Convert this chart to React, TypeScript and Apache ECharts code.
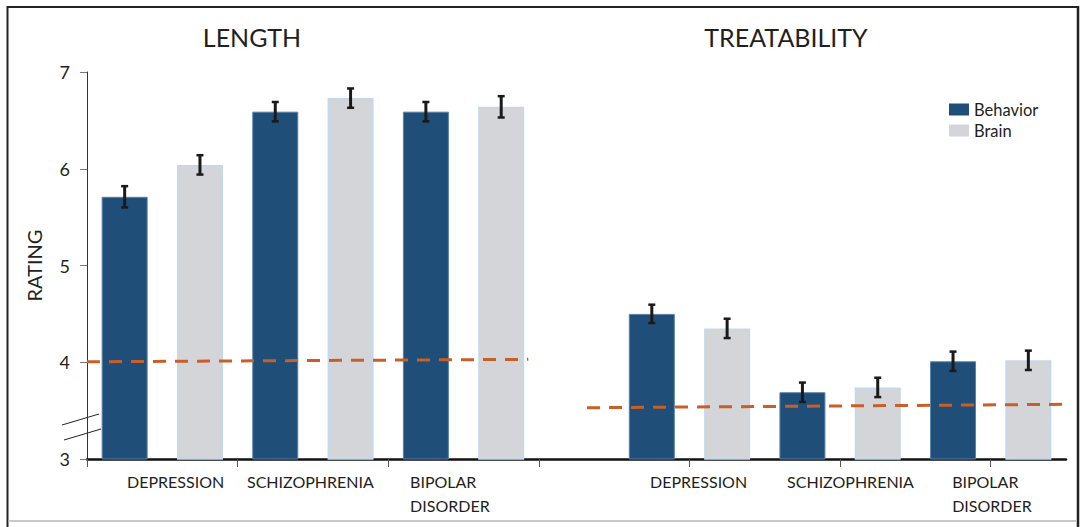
import React, { useEffect, useRef } from "react";
import * as echarts from "echarts";

// Panel titles and disorder categories
const panels = ["LENGTH", "TREATABILITY"];
const categories = ["DEPRESSION", "SCHIZOPHRENIA", "BIPOLAR\nDISORDER"];
const yTicks = [3, 4, 5, 6, 7];

// Mean ratings (LENGTH panel, then TREATABILITY panel)
const lengthBehavior = [5.71, 6.59, 6.59];
const lengthBrain = [6.04, 6.73, 6.64];
const treatBehavior = [4.5, 3.69, 4.01];
const treatBrain = [4.35, 3.74, 4.02];

// Standard errors
const lengthBehaviorErr = [0.11, 0.1, 0.1];
const lengthBrainErr = [0.1, 0.1, 0.11];
const treatBehaviorErr = [0.095, 0.1, 0.1];
const treatBrainErr = [0.1, 0.1, 0.1];

// Reference (scale midpoint) dashed lines: [start, end] ratings
const lengthRef = [4.005, 4.03];
const treatRef = [3.53, 3.565];

const FONT = "Lato, 'Open Sans', sans-serif";
const TEXT = "#231f20";
const BLUE = "#1f4e79";
const GREY = "#d4d5d8";

// x layout on a value axis: LENGTH slots sit between ticks 0..3,
// TREATABILITY groups are centred on ticks 4, 5, 6.
const lengthCenter = (i: number) => i + 0.5;
const treatCenter = (i: number) => 4 + i;
const OFFSET = 0.25;

const barPoints = (vals: number[], center: (i: number) => number, dx: number) =>
  vals.map((v, i) => [center(i) + dx, v]);
const errPoints = (
  vals: number[],
  errs: number[],
  center: (i: number) => number,
  dx: number
) => vals.map((v, i) => [center(i) + dx, v - errs[i], v + errs[i]]);

// Category label anchors (left edges of the labels)
const labelAnchors = [0.266, 1.062, 2.145, 3.738, 4.648, 5.744];
const labelTexts = [...categories, ...categories];

export default function App() {
  const ref = useRef<HTMLDivElement>(null);

  useEffect(() => {
    if (!ref.current) return;
    const chart = echarts.init(ref.current, null, { renderer: "svg" });

    const behaviorData = [
      ...barPoints(lengthBehavior, lengthCenter, -OFFSET),
      ...barPoints(treatBehavior, treatCenter, -OFFSET),
    ];
    const brainData = [
      ...barPoints(lengthBrain, lengthCenter, OFFSET),
      ...barPoints(treatBrain, treatCenter, OFFSET),
    ];
    const errData = [
      ...errPoints(lengthBehavior, lengthBehaviorErr, lengthCenter, -OFFSET),
      ...errPoints(lengthBrain, lengthBrainErr, lengthCenter, OFFSET),
      ...errPoints(treatBehavior, treatBehaviorErr, treatCenter, -OFFSET),
      ...errPoints(treatBrain, treatBrainErr, treatCenter, OFFSET),
    ];

    chart.setOption({
      animation: false,
      backgroundColor: "#ffffff",
      textStyle: { fontFamily: FONT },
      grid: {
        left: 87,
        right: 15,
        top: 72,
        bottom: 68,
        containLabel: false,
      },
      legend: {
        orient: "vertical",
        left: 944,
        top: 96,
        itemWidth: 20,
        itemHeight: 12,
        itemGap: 4,
        icon: "rect",
        textStyle: { fontFamily: FONT, fontSize: 16.5, color: TEXT },
        data: [
          { name: "Behavior", itemStyle: { borderWidth: 0 } },
          { name: "Brain", itemStyle: { borderWidth: 0 } },
        ],
      },
      xAxis: {
        type: "value",
        min: 0,
        max: 6.5,
        splitLine: { show: false },
        axisLine: { show: true, lineStyle: { color: "#111", width: 2.5 } },
        axisTick: {
          show: true,
          customValues: [0, 1, 2, 3, 4, 5, 6],
          length: 8,
          lineStyle: { color: "#555", width: 1 },
        },
        axisLabel: {
          customValues: labelAnchors,
          formatter: (v: number) => {
            let best = 0;
            labelAnchors.forEach((a, i) => {
              if (Math.abs(a - v) < Math.abs(labelAnchors[best] - v)) best = i;
            });
            return labelTexts[best];
          },
          align: "left",
          margin: 10,
          fontFamily: FONT,
          fontSize: 16,
          lineHeight: 24,
          color: TEXT,
        },
      },
      yAxis: {
        type: "value",
        min: 3,
        max: 7,
        interval: 1,
        name: "RATING",
        nameLocation: "middle",
        nameRotate: 90,
        nameGap: 43,
        nameTextStyle: { fontFamily: FONT, fontSize: 20, color: TEXT },
        splitLine: { show: false },
        axisLine: { show: true, lineStyle: { color: "#333", width: 1 } },
        axisTick: { show: true, length: 7, lineStyle: { color: "#777" } },
        axisLabel: {
          margin: 17,
          fontFamily: FONT,
          fontSize: 18,
          color: TEXT,
          formatter: (v: number) => (yTicks.includes(v) ? String(v) : ""),
        },
      },
      series: [
        {
          name: "Behavior",
          type: "bar",
          data: behaviorData,
          barWidth: 46,
          barGap: "-100%",
          itemStyle: { color: BLUE, borderColor: "#5b80a8", borderWidth: 1 },
          z: 2,
        },
        {
          name: "Brain",
          type: "bar",
          data: brainData,
          barWidth: 46,
          barGap: "-100%",
          itemStyle: { color: GREY, borderColor: "#c3d8ec", borderWidth: 1.5 },
          z: 2,
        },
        {
          name: "lengthRef",
          type: "line",
          data: [
            [0, lengthRef[0]],
            [2.93, lengthRef[1]],
          ],
          symbol: "none",
          lineStyle: { color: "#c95f26", width: 3, type: [13, 9] },
          z: 3,
        },
        {
          name: "treatRef",
          type: "line",
          data: [
            [3.32, treatRef[0]],
            [6.5, treatRef[1]],
          ],
          symbol: "none",
          lineStyle: { color: "#c95f26", width: 3, type: [13, 9] },
          z: 3,
        },
        {
          name: "errors",
          type: "custom",
          data: errData,
          z: 4,
          renderItem: (_params: any, api: any) => {
            const x = api.value(0);
            const top = api.coord([x, api.value(2)]);
            const bot = api.coord([x, api.value(1)]);
            const c = "#1a1a1a";
            return {
              type: "group",
              children: [
                {
                  type: "line",
                  shape: { x1: top[0], y1: top[1], x2: bot[0], y2: bot[1] },
                  style: { stroke: c, lineWidth: 3 },
                },
                {
                  type: "line",
                  shape: { x1: top[0] - 3.5, y1: top[1], x2: top[0] + 3.5, y2: top[1] },
                  style: { stroke: c, lineWidth: 2.5 },
                },
                {
                  type: "line",
                  shape: { x1: bot[0] - 3.5, y1: bot[1], x2: bot[0] + 3.5, y2: bot[1] },
                  style: { stroke: c, lineWidth: 2.5 },
                },
              ],
            };
          },
        },
      ],
      graphic: [
        // panel titles
        {
          type: "text",
          x: 252,
          y: 37,
          style: {
            text: panels[0],
            font: `25px ${FONT}`,
            fill: TEXT,
            textAlign: "center",
            textVerticalAlign: "middle",
          },
        },
        {
          type: "text",
          x: 786,
          y: 37,
          style: {
            text: panels[1],
            font: `25px ${FONT}`,
            fill: TEXT,
            textAlign: "center",
            textVerticalAlign: "middle",
          },
        },
        // y-axis break marks
        {
          type: "line",
          shape: { x1: 62, y1: 425, x2: 99, y2: 414 },
          style: { stroke: "#222", lineWidth: 1 },
        },
        {
          type: "line",
          shape: { x1: 64, y1: 440, x2: 101, y2: 429 },
          style: { stroke: "#222", lineWidth: 1 },
        },
        // frame
        {
          type: "line",
          shape: { x1: 7.5, y1: 7, x2: 1078, y2: 7 },
          style: { stroke: "#222", lineWidth: 2 },
        },
        {
          type: "line",
          shape: { x1: 7.5, y1: 6, x2: 7.5, y2: 527 },
          style: { stroke: "#222", lineWidth: 2 },
        },
        {
          type: "line",
          shape: { x1: 1078, y1: 6, x2: 1078, y2: 527 },
          style: { stroke: "#222", lineWidth: 2.5 },
        },
        {
          type: "line",
          shape: { x1: 8.5, y1: 521, x2: 1077, y2: 521 },
          style: { stroke: "#c8c8c8", lineWidth: 2 },
        },
      ],
    });

    return () => chart.dispose();
  }, []);

  return (
    <div
      ref={ref}
      style={{ position: "absolute", left: 0, top: 0, width: 1081, height: 527 }}
    />
  );
}
